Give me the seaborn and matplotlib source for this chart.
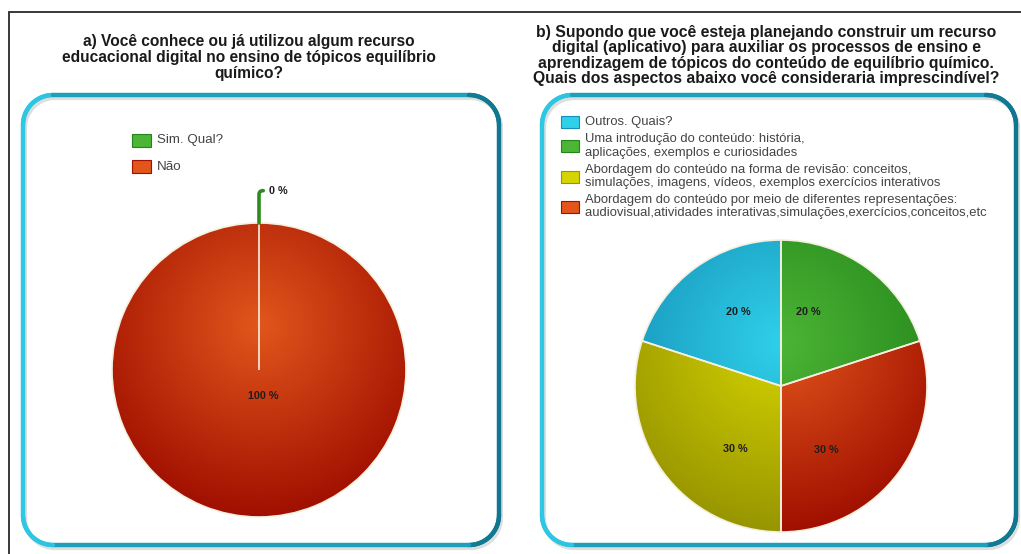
import numpy as np
import matplotlib
matplotlib.use("Agg")
import matplotlib.pyplot as plt
import seaborn as sns
from matplotlib.collections import LineCollection
from matplotlib.patches import Rectangle
from matplotlib.colors import to_rgb

# ---------------- data ----------------
title_a = ("a) Você conhece ou já utilizou algum recurso\n"
           "educacional digital no ensino de tópicos equilíbrio\n"
           "químico?")
cats_a = ["Sim. Qual?", "Não"]
vals_a = [0, 100]

title_b = ("b) Supondo que você esteja planejando construir um recurso\n"
           "digital (aplicativo) para auxiliar os processos de ensino e\n"
           "aprendizagem de tópicos do conteúdo de equilíbrio químico.\n"
           "Quais dos aspectos abaixo você consideraria imprescindível?")
cats_b = ["Outros. Quais?",
          "Uma introdução do conteúdo: história,\naplicações, exemplos e curiosidades",
          "Abordagem do conteúdo na forma de revisão: conceitos,\nsimulações, imagens, vídeos, exemplos exercícios interativos",
          "Abordagem do conteúdo por meio de diferentes representações:\naudiovisual,atividades interativas,simulações,exercícios,conceitos,etc"]
vals_b = [20, 20, 30, 30]
# drawing order of slices in pie b (clockwise from top)
order_b = [1, 3, 2, 0]

# ---------------- style ----------------
sns.set_theme(style="white")
plt.rcParams["font.family"] = ["Liberation Sans", "DejaVu Sans"]

# (light, dark) gradient pairs
grad = {
    "cyan": ("#2fd0ea", "#1690b8"),
    "green": ("#4cb535", "#23841a"),
    "yellow": ("#d6d400", "#979500"),
    "red": ("#e2561c", "#a00f00"),
}
col_a = ["green", "red"]
col_b = ["cyan", "green", "yellow", "red"]

W, H = 1021, 554
fig = plt.figure(figsize=(W / 100, H / 100), dpi=100)
bg = fig.add_axes([0, 0, 1, 1])
bg.set_xlim(0, W)
bg.set_ylim(H, 0)
bg.axis("off")

# outer black frame (top and left)
bg.plot([9, 9, W], [H, 12, 12], color="#2a2a2a", lw=1.3, solid_joinstyle="miter")


def rounded_pts(x0, y0, x1, y1, r, n=30):
    pts = []
    def arc(cx, cy, a0, a1):
        for t in np.linspace(a0, a1, n):
            pts.append((cx + r * np.cos(t), cy + r * np.sin(t)))
    arc(x0 + r, y0 + r, np.pi, 1.5 * np.pi)
    arc(x1 - r, y0 + r, 1.5 * np.pi, 2 * np.pi)
    arc(x1 - r, y1 - r, 0, 0.5 * np.pi)
    arc(x0 + r, y1 - r, 0.5 * np.pi, np.pi)
    pts.append(pts[0])
    return np.array(pts)


def panel(x0, y0, x1, y1, r=30):
    c_l = np.array(to_rgb("#2ec8e4"))
    c_r = np.array(to_rgb("#0f7890"))
    p = rounded_pts(x0 + 2, y0 + 3, x1 + 2, y1 + 3, r)
    bg.plot(p[:, 0], p[:, 1], color="#c8c8c8", lw=3.0, alpha=0.6, zorder=1)
    p = rounded_pts(x0, y0, x1, y1, r)
    segs = np.stack([p[:-1], p[1:]], axis=1)
    xm = segs[:, :, 0].mean(axis=1)
    f = np.clip((xm - x0) / (x1 - x0), 0, 1)[:, None]
    cols = c_l * (1 - f) + c_r * f
    lc = LineCollection(segs, colors=cols, linewidths=3.2, capstyle="round", zorder=2)
    bg.add_collection(lc)
    bg.add_patch(plt.Polygon(p, closed=True, facecolor="white", edgecolor="none", zorder=0))


panel(23, 95, 499, 545)
panel(542, 95, 1016, 545)

# titles
bg.text(249, 57.5, title_a, ha="center", va="center", fontsize=11.2, fontweight="bold",
        color="#1a1a1a", linespacing=1.07)
bg.text(766, 55.5, title_b, ha="center", va="center", fontsize=11.3, fontweight="bold",
        color="#1a1a1a", linespacing=1.05)

# legends
leg_a_y = [140.5, 166.5]
for cat, c, y in zip(cats_a, col_a, leg_a_y):
    bg.add_patch(Rectangle((132, y - 6.5), 19, 13, facecolor=grad[c][0], edgecolor=grad[c][1], lw=0.8))
    bg.text(157, y, cat, ha="left", va="center", fontsize=9.6, color="#444444")

leg_b_y = [122, 146, 176.5, 206.5]
for cat, c, y in zip(cats_b, col_b, leg_b_y):
    bg.add_patch(Rectangle((561, y - 6), 18, 12, facecolor=grad[c][0], edgecolor=grad[c][1], lw=0.8))
    bg.text(585, y, cat, ha="left", va="center", fontsize=9.4, color="#444444", linespacing=1.12)


def gradient_img(light, dark, n=300):
    yy, xx = np.mgrid[1:-1:n * 1j, -1:1:n * 1j]
    d = np.sqrt((xx - 0.0) ** 2 + (yy - 0.3) ** 2) / 1.3
    d = np.clip(d, 0, 1)[..., None]
    l = np.array(to_rgb(light))
    k = np.array(to_rgb(dark))
    return l * (1 - d) + k * d


def pie_axes(cx, cy, r, lim=1.35):
    half = r * lim
    ax = fig.add_axes([(cx - half) / W, (H - cy - half) / H, 2 * half / W, 2 * half / H])
    return ax


def draw_pie(ax, vals, colors, lim=1.35, pctdist=0.55):
    wedges, texts, autot = ax.pie(
        vals, colors=[grad[c][0] for c in colors], startangle=90, counterclock=False,
        autopct=lambda p: f"{p:.0f} %", pctdistance=pctdist,
        wedgeprops=dict(edgecolor="#f4f0e0", linewidth=1.2),
        textprops=dict(fontsize=7.8, fontweight="bold", color="#1e1e1e"))
    ax.set_xlim(-lim, lim)
    ax.set_ylim(-lim, lim)
    ax.axis("off")
    for w, c in zip(wedges, colors):
        if w.theta2 - w.theta1 <= 0:
            continue
        im = ax.imshow(gradient_img(*grad[c]), extent=(-1, 1, -1, 1), zorder=0.5,
                       interpolation="bilinear")
        im.set_clip_path(w)
        w.set_facecolor("none")
        w.set_zorder(1)
    for t in autot:
        t.set_zorder(3)
    return wedges, autot


# pie a
ax_a = pie_axes(259, 370, 147)
wa, ta = draw_pie(ax_a, vals_a, col_a, pctdist=0.18)
for w, t, v in zip(wa, ta, vals_a):
    if v == 0:
        t.set_visible(False)
        ang = np.deg2rad(w.theta1)
        xy = (np.cos(ang), np.sin(ang))
        ax_a.annotate(f"{v} %", xy=xy, xytext=(xy[0] + 0.07, xy[1] + 0.22),
                      fontsize=7.8, fontweight="bold", color="#1e1e1e",
                      va="center", ha="left", zorder=4,
                      arrowprops=dict(arrowstyle="-", color="#2e8a1e", lw=2.6,
                                      shrinkA=2, shrinkB=0,
                                      connectionstyle="angle,angleA=0,angleB=90,rad=4"))
    else:
        t.set_position((0.03, -0.18))

# pie b
ax_b = pie_axes(781, 386, 146)
vb = [vals_b[i] for i in order_b]
cb = [col_b[i] for i in order_b]
wb, tb = draw_pie(ax_b, vb, cb, pctdist=0.55)
label_pos = {0: (0.19, 0.51), 1: (0.31, -0.44), 2: (-0.31, -0.43), 3: (-0.29, 0.51)}
for i, t in enumerate(tb):
    t.set_position(label_pos[i])

fig.savefig("out.png", dpi=100)
